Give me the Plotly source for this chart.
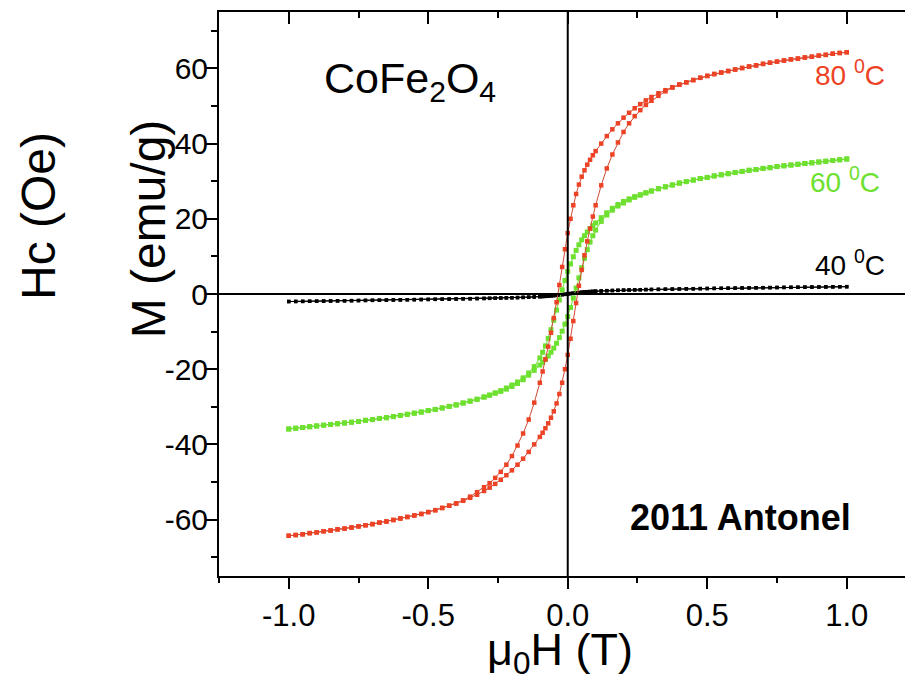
import plotly.graph_objects as go

# ---------------- data ----------------
# field sweep from +1 T down to -1 T
H_DOWN = [1.0, 0.975, 0.95, 0.925, 0.9, 0.875, 0.85, 0.825, 0.8, 0.775, 0.75, 0.725, 0.7, 0.675, 0.65,
          0.625, 0.6, 0.575, 0.55, 0.525, 0.5, 0.475, 0.45, 0.425, 0.4, 0.375, 0.35, 0.325, 0.3,
          0.28, 0.26, 0.24, 0.22, 0.2, 0.18, 0.16, 0.14, 0.12, 0.1,
          0.09, 0.08, 0.07, 0.06, 0.05, 0.04, 0.03, 0.02, 0.01, 0.0,
          -0.01, -0.02, -0.03, -0.04, -0.05, -0.06, -0.07, -0.08, -0.09, -0.1,
          -0.12, -0.14, -0.16, -0.18, -0.2, -0.22, -0.24, -0.26, -0.28,
          -0.3, -0.325, -0.35, -0.375, -0.4, -0.425, -0.45, -0.475, -0.5, -0.525, -0.55, -0.575, -0.6,
          -0.625, -0.65, -0.675, -0.7, -0.725, -0.75, -0.775, -0.8, -0.825, -0.85, -0.875, -0.9,
          -0.925, -0.95, -0.975, -1.0]
# field sweep from -1 T back up to +1 T
H_UP = [-1.0, -0.975, -0.95, -0.925, -0.9, -0.875, -0.85, -0.825, -0.8, -0.775, -0.75, -0.725, -0.7, -0.675, -0.65,
        -0.625, -0.6, -0.575, -0.55, -0.525, -0.5, -0.475, -0.45, -0.425, -0.4, -0.375, -0.35, -0.325, -0.3,
        -0.28, -0.26, -0.24, -0.22, -0.2, -0.18, -0.16, -0.14, -0.12, -0.1,
        -0.09, -0.08, -0.07, -0.06, -0.05, -0.04, -0.03, -0.02, -0.01, 0.0,
        0.01, 0.02, 0.03, 0.04, 0.05, 0.06, 0.07, 0.08, 0.09, 0.1,
        0.12, 0.14, 0.16, 0.18, 0.2, 0.22, 0.24, 0.26, 0.28,
        0.3, 0.325, 0.35, 0.375, 0.4, 0.425, 0.45, 0.475, 0.5, 0.525, 0.55, 0.575, 0.6,
        0.625, 0.65, 0.675, 0.7, 0.725, 0.75, 0.775, 0.8, 0.825, 0.85, 0.875, 0.9,
        0.925, 0.95, 0.975, 1.0]

# 80 C loop (emu/g)
M80_DOWN = [64.3, 64.1, 63.9, 63.6, 63.4, 63.1, 62.9, 62.6, 62.4, 62.1, 61.8, 61.5, 61.2, 60.8, 60.5,
            60.1, 59.7, 59.3, 58.9, 58.5, 58.0, 57.5, 56.9, 56.3, 55.7, 55.0, 54.2, 53.4, 52.4,
            51.5, 50.5, 49.4, 48.2, 46.9, 45.4, 43.8, 42.0, 40.0, 38.0,
            36.9, 35.7, 34.4, 32.9, 31.2, 29.1, 26.6, 23.6, 20.0, 16.2,
            11.9, 7.2, 2.4, -2.2, -6.4, -10.3, -14.0, -17.4, -20.6, -23.6,
            -28.9, -33.4, -37.1, -40.3, -43.1, -45.4, -47.3, -48.9, -50.3,
            -51.4, -52.7, -53.9, -54.9, -55.7, -56.3, -56.9, -57.5, -58.0, -58.5, -58.9, -59.3, -59.7,
            -60.1, -60.5, -60.8, -61.2, -61.5, -61.8, -62.1, -62.4, -62.6, -62.9, -63.1, -63.4,
            -63.6, -63.9, -64.1, -64.3]
M80_UP = [-64.3, -64.1, -63.9, -63.6, -63.4, -63.1, -62.9, -62.6, -62.4, -62.1, -61.8, -61.5, -61.2, -60.8, -60.5,
          -60.1, -59.7, -59.3, -58.9, -58.5, -58.0, -57.5, -56.9, -56.3, -55.7, -55.0, -54.2, -53.4, -52.4,
          -51.5, -50.5, -49.4, -48.2, -46.9, -45.4, -43.8, -42.0, -40.0, -38.0,
          -36.9, -35.7, -34.4, -32.9, -31.2, -29.1, -26.6, -23.6, -20.0, -16.2,
          -11.9, -7.2, -2.4, 2.2, 6.4, 10.3, 14.0, 17.4, 20.6, 23.6,
          28.9, 33.4, 37.1, 40.3, 43.1, 45.4, 47.3, 48.9, 50.3,
          51.4, 52.7, 53.9, 54.9, 55.7, 56.3, 56.9, 57.5, 58.0, 58.5, 58.9, 59.3, 59.7,
          60.1, 60.5, 60.8, 61.2, 61.5, 61.8, 62.1, 62.4, 62.6, 62.9, 63.1, 63.4,
          63.6, 63.9, 64.1, 64.3]

# 60 C loop (emu/g)
M60_DOWN = [35.9, 35.7, 35.5, 35.3, 35.1, 34.9, 34.7, 34.5, 34.3, 34.1, 33.9, 33.6, 33.4, 33.1, 32.9,
            32.6, 32.3, 32.0, 31.7, 31.4, 31.0, 30.7, 30.3, 29.9, 29.5, 29.0, 28.5, 28.0, 27.4,
            26.9, 26.4, 25.9, 25.3, 24.6, 23.8, 22.8, 21.6, 20.3, 18.9,
            18.2, 17.4, 16.5, 15.5, 14.4, 13.1, 11.6, 9.9, 8.0, 6.0,
            3.6, 1.1, -1.6, -4.3, -7.0, -9.5, -11.8, -13.8, -15.5, -17.0,
            -19.3, -21.0, -22.3, -23.4, -24.2, -25.0, -25.7, -26.3, -26.9,
            -27.4, -28.0, -28.5, -29.0, -29.5, -29.9, -30.3, -30.7, -31.0, -31.4, -31.7, -32.0, -32.3,
            -32.6, -32.9, -33.1, -33.4, -33.6, -33.9, -34.1, -34.3, -34.5, -34.7, -34.9, -35.1,
            -35.3, -35.5, -35.7, -35.9]
M60_UP = [-35.9, -35.7, -35.5, -35.3, -35.1, -34.9, -34.7, -34.5, -34.3, -34.1, -33.9, -33.6, -33.4, -33.1, -32.9,
          -32.6, -32.3, -32.0, -31.7, -31.4, -31.0, -30.7, -30.3, -29.9, -29.5, -29.0, -28.5, -28.0, -27.4,
          -26.9, -26.4, -25.9, -25.3, -24.6, -23.8, -22.8, -21.6, -20.3, -18.9,
          -18.2, -17.4, -16.5, -15.5, -14.4, -13.1, -11.6, -9.9, -8.0, -6.0,
          -3.6, -1.1, 1.6, 4.3, 7.0, 9.5, 11.8, 13.8, 15.5, 17.0,
          19.3, 21.0, 22.3, 23.4, 24.2, 25.0, 25.7, 26.3, 26.9,
          27.4, 28.0, 28.5, 29.0, 29.5, 29.9, 30.3, 30.7, 31.0, 31.4, 31.7, 32.0, 32.3,
          32.6, 32.9, 33.1, 33.4, 33.6, 33.9, 34.1, 34.3, 34.5, 34.7, 34.9, 35.1,
          35.3, 35.5, 35.7, 35.9]

# 40 C loop (emu/g)
M40_DOWN = [1.95, 1.93, 1.91, 1.89, 1.87, 1.85, 1.83, 1.80, 1.78, 1.76, 1.73, 1.71, 1.68, 1.66, 1.63,
            1.61, 1.58, 1.55, 1.52, 1.50, 1.47, 1.44, 1.41, 1.38, 1.35, 1.31, 1.28, 1.24, 1.21,
            1.18, 1.14, 1.11, 1.07, 1.03, 0.99, 0.94, 0.89, 0.83, 0.76,
            0.72, 0.67, 0.62, 0.56, 0.49, 0.42, 0.34, 0.25, 0.16, 0.06,
            -0.04, -0.13, -0.22, -0.31, -0.39, -0.46, -0.52, -0.58, -0.63, -0.68,
            -0.76, -0.83, -0.89, -0.94, -0.99, -1.03, -1.07, -1.11, -1.14,
            -1.18, -1.21, -1.25, -1.28, -1.32, -1.35, -1.38, -1.41, -1.44, -1.47, -1.50, -1.53, -1.56,
            -1.59, -1.62, -1.65, -1.68, -1.71, -1.74, -1.77, -1.80, -1.83, -1.86, -1.88, -1.91,
            -1.93, -1.96, -1.98, -2.00]
M40_UP = [-2.00, -1.98, -1.96, -1.93, -1.91, -1.88, -1.86, -1.83, -1.80, -1.77, -1.74, -1.71, -1.68, -1.65, -1.62,
          -1.59, -1.56, -1.53, -1.50, -1.47, -1.44, -1.41, -1.38, -1.35, -1.32, -1.28, -1.25, -1.21, -1.18,
          -1.15, -1.12, -1.08, -1.04, -1.00, -0.96, -0.91, -0.86, -0.80, -0.73,
          -0.69, -0.64, -0.58, -0.52, -0.45, -0.37, -0.29, -0.20, -0.11, -0.02,
          0.08, 0.17, 0.26, 0.34, 0.42, 0.48, 0.54, 0.60, 0.65, 0.70,
          0.78, 0.85, 0.91, 0.96, 1.01, 1.05, 1.09, 1.13, 1.16,
          1.19, 1.22, 1.26, 1.29, 1.33, 1.36, 1.39, 1.42, 1.45, 1.48, 1.51, 1.54, 1.56,
          1.59, 1.62, 1.64, 1.67, 1.69, 1.72, 1.74, 1.77, 1.79, 1.81, 1.84, 1.86,
          1.88, 1.90, 1.92, 1.94]

X_TICKS = [-1.0, -0.5, 0.0, 0.5, 1.0]
X_TICK_LABELS = ["-1.0", "-0.5", "0.0", "0.5", "1.0"]
Y_TICKS = [-60, -40, -20, 0, 20, 40, 60]
Y_TICK_LABELS = ["-60", "-40", "-20", "0", "20", "40", "60"]

RED = "#EC4326"
GREEN = "#6EE030"
BLACK = "#000000"
FONT = "Liberation Sans, Arial, sans-serif"

fig = go.Figure()

fig.add_trace(go.Scatter(x=H_DOWN + H_UP, y=M40_DOWN + M40_UP, mode="lines+markers",
                         line=dict(color=BLACK, width=1),
                         marker=dict(symbol="square", size=3.5, color=BLACK), showlegend=False))
fig.add_trace(go.Scatter(x=H_DOWN + H_UP, y=M60_DOWN + M60_UP, mode="lines+markers",
                         line=dict(color=GREEN, width=1),
                         marker=dict(symbol="square", size=5, color=GREEN), showlegend=False))
fig.add_trace(go.Scatter(x=H_DOWN + H_UP, y=M80_DOWN + M80_UP, mode="lines+markers",
                         line=dict(color="#D24A36", width=1),
                         marker=dict(symbol="square", size=4.5, color=RED), showlegend=False))
# empty trace to host the mirrored top/right axes
fig.add_trace(go.Scatter(x=[None], y=[None], xaxis="x2", yaxis="y2", showlegend=False, hoverinfo="skip"))

axis_common = dict(showgrid=False, zeroline=False, linecolor="black", linewidth=2,
                   tickcolor="black", tickwidth=2, automargin=False)

# the page adds an 8 px body margin, so the figure is 8 px smaller and offset
fig.update_layout(
    width=905, height=677,
    margin=dict(l=211, r=0, t=4, b=109, autoexpand=False),
    paper_bgcolor="white", plot_bgcolor="white",
    font=dict(family=FONT, color="black"),
    xaxis=dict(range=[-1.25, 1.2375], showline=True, ticks="outside", ticklen=11,
               tickmode="array", tickvals=X_TICKS, ticktext=X_TICK_LABELS,
               tickfont=dict(size=31, family=FONT),
               minor=dict(tickmode="linear", tick0=0, dtick=0.25, ticks="outside", ticklen=5,
                          tickwidth=2, tickcolor="black"),
               **axis_common),
    yaxis=dict(range=[-75, 75], showline=True, ticks="outside", ticklen=12,
               tickmode="array", tickvals=Y_TICKS, ticktext=Y_TICK_LABELS,
               tickfont=dict(size=30, family=FONT), ticklabelstandoff=-9,
               minor=dict(tickmode="linear", tick0=0, dtick=10, ticks="outside", ticklen=6,
                          tickwidth=2, tickcolor="black"),
               **axis_common),
    xaxis2=dict(range=[-1.25, 1.2375], overlaying="x", side="top", showline=True,
                ticks="inside", ticklen=12, showticklabels=False,
                tickmode="linear", tick0=0, dtick=0.5,
                minor=dict(tickmode="linear", tick0=0, dtick=0.25, ticks="inside", ticklen=6,
                           tickwidth=2, tickcolor="black"),
                **axis_common),
    yaxis2=dict(range=[-75, 75], overlaying="y", side="right", showline=False,
                ticks="inside", ticklen=8, showticklabels=False,
                tickmode="linear", tick0=0, dtick=20,
                minor=dict(tickmode="linear", tick0=0, dtick=10, ticks="inside", ticklen=3,
                           tickwidth=2, tickcolor="black"),
                **axis_common),
)

# zero lines drawn above the data
fig.add_shape(type="line", xref="x", yref="paper", x0=0, x1=0, y0=0, y1=1,
              line=dict(color="black", width=2), layer="above")
fig.add_shape(type="line", xref="paper", yref="y", x0=0, x1=1, y0=0, y1=0,
              line=dict(color="black", width=2), layer="above")

ann = [
    dict(text="CoFe<sub>2</sub>O<sub>4</sub>", x=0.148, y=0.878, xanchor="left", yanchor="middle",
         font=dict(size=43, color="black")),
    dict(text="80 <sup>0</sup>C", x=0.962, y=0.892, xanchor="right", yanchor="middle",
         font=dict(size=28, color=RED)),
    dict(text="60 <sup>0</sup>C", x=0.955, y=0.703, xanchor="right", yanchor="middle",
         font=dict(size=28, color=GREEN)),
    dict(text="40 <sup>0</sup>C", x=0.962, y=0.555, xanchor="right", yanchor="middle",
         font=dict(size=28, color="black")),
    dict(text="<b>2011 Antonel</b>", x=0.752, y=0.103, xanchor="center", yanchor="middle",
         font=dict(size=36, color="black")),
    dict(text="Hc (Oe)", x=-0.261, y=0.638, xanchor="center", yanchor="middle", textangle=-90,
         font=dict(size=48, color="black")),
    dict(text="M (emu/g)", x=-0.102, y=0.615, xanchor="center", yanchor="middle", textangle=-90,
         font=dict(size=48, color="black")),
    dict(text="\u03bc<sub>0</sub>H (T)", x=0.491, y=-0.135, xanchor="center", yanchor="middle",
         font=dict(size=45, color="black")),
]
for a in ann:
    fig.add_annotation(xref="paper", yref="paper", showarrow=False, **a)

fig.write_html("out.html")
